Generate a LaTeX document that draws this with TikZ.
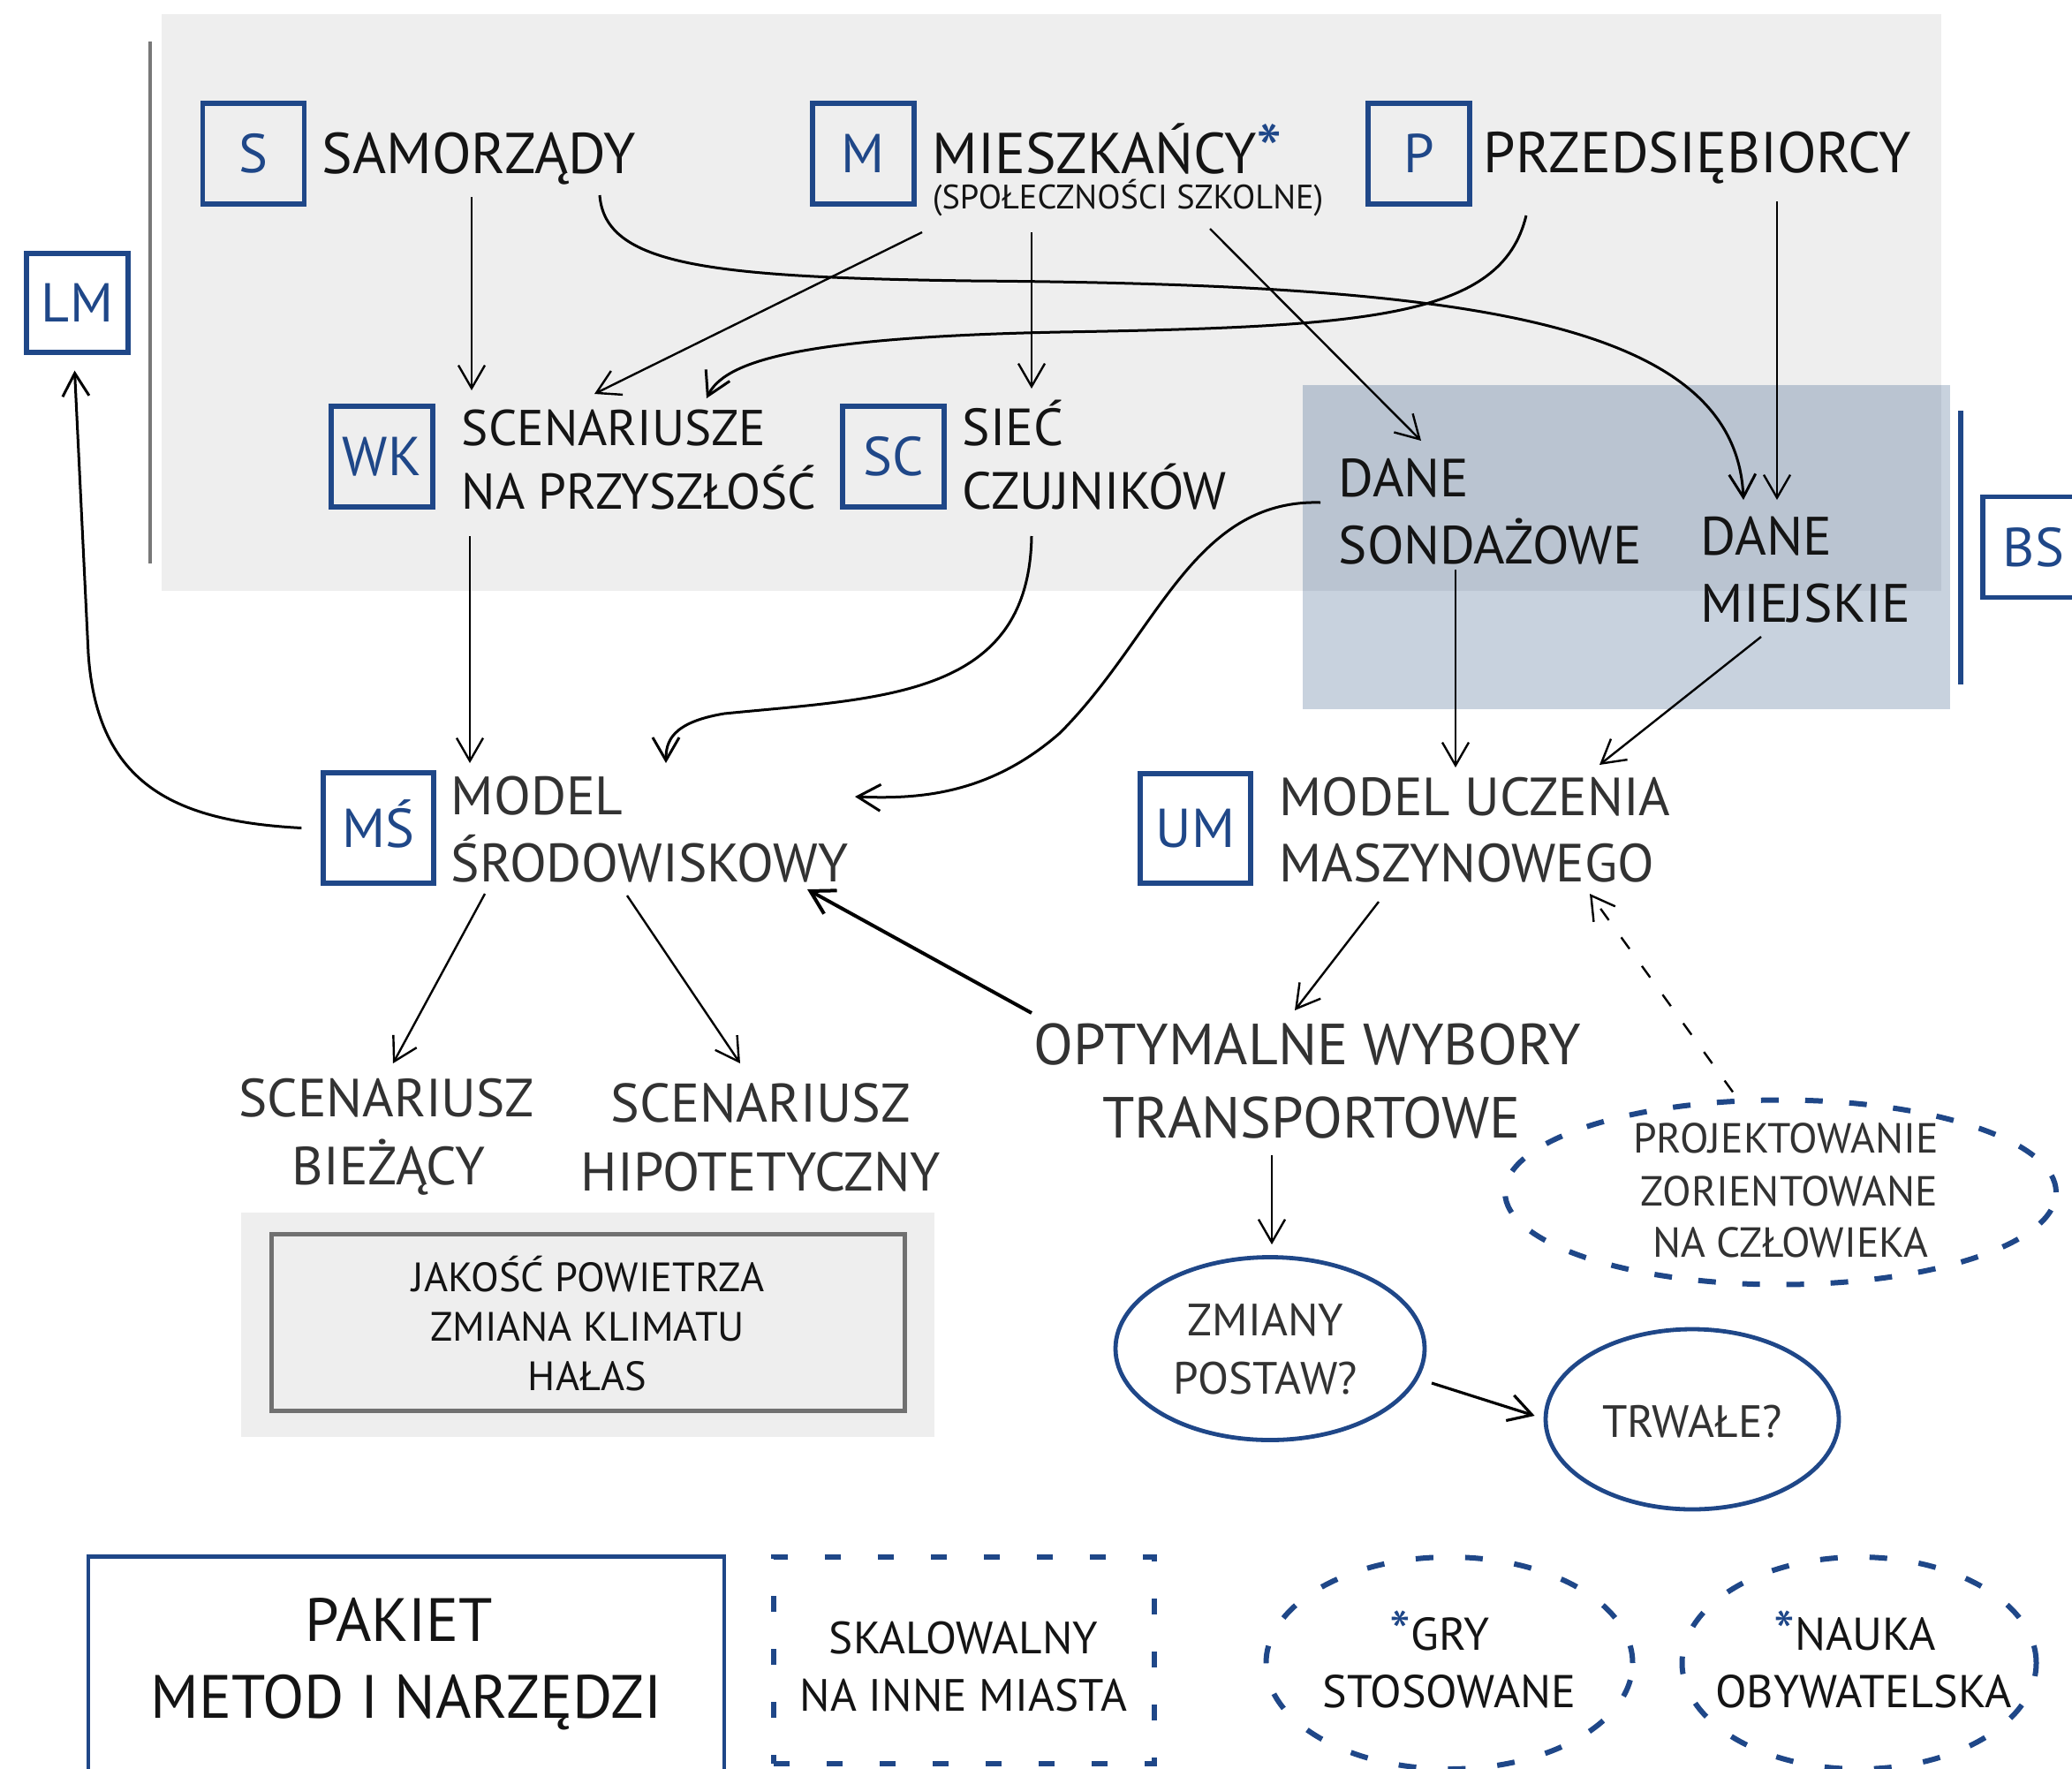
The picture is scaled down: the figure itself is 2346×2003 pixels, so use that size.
\documentclass[tikz,border=0pt]{standalone}
\usepackage{fontspec}
\setmainfont{PT Sans}
\usetikzlibrary{arrows.meta,calc,shapes.geometric}
\definecolor{myblue}{RGB}{31,71,136}
\definecolor{bggray}{RGB}{238,238,238}
\definecolor{bslight}{RGB}{200,210,222}
\definecolor{bsdark}{RGB}{186,196,209}
\definecolor{txt}{RGB}{20,20,20}
\definecolor{txtb}{RGB}{50,50,50}
\definecolor{boxgray}{RGB}{112,112,112}
\definecolor{linegray}{RGB}{120,120,120}
\newcommand\fsz[1]{\fontsize{#1}{#1}\selectfont}
\newcommand\bast[1]{\textcolor{myblue}{\fsz{#1}*}}
\begin{document}
\begin{tikzpicture}[x=0.25pt,y=-0.25pt,
  tl/.style={inner sep=0,anchor=base west,text=txt},
  tc/.style={inner sep=0,anchor=base,text=txtb},
  ibox/.style={draw=myblue,line width=1.3pt,inner sep=0,minimum width=28.75pt,minimum height=28.5pt,
    text=myblue,font=\fsz{15.5},text height=10.8pt,text depth=0pt},
  arr/.style={draw=black,line width=0.6pt,-{Straight Barb[length=6.5pt,width=7.5pt]}},
  carr/.style={arr,line width=0.75pt},
  dashbox/.style={draw=myblue,line width=1.5pt,dash pattern=on 4.5pt off 10.5pt},
  dashell/.style={ellipse,draw=myblue,line width=1.5pt,dash pattern=on 5pt off 7.5pt,inner sep=0},
  solell/.style={ellipse,draw=myblue,line width=1.2pt,inner sep=0}
]
\useasboundingbox (0,0) rectangle (2346,2003);
\clip (0,0) rectangle (2346,2003);

% backgrounds
\fill[bggray] (183,16) rectangle (2198,669);
\fill[bslight] (1475,436) rectangle (2208,803);
\fill[bsdark] (1475,436) rectangle (2198,669);
\draw[linegray,line width=1pt] (170,47) -- (170,638);
\draw[myblue,line width=1.3pt] (2220,465) -- (2220,775);

% icon boxes
\node[ibox,minimum height=28pt] (lm) at (87.5,343) {LM};
\node[ibox] (s) at (287,174) {S};
\node[ibox] (m) at (977.5,174) {M};
\node[ibox] (p) at (1606.5,174) {P};
\node[ibox] (wk) at (432.5,517) {WK};
\node[ibox] (sc) at (1011.5,517) {SC};
\node[ibox,minimum width=31.25pt,minimum height=31.25pt] (ms) at (428.5,937.5) {MŚ};
\node[ibox,minimum width=31.25pt,minimum height=31pt] (um) at (1353.5,938) {UM};
\node[ibox] (bs) at (2302.5,619.5) {BS};

% top texts
\node[tl,font=\fsz{16.3}] (samo) at (364,196) {SAMORZĄDY};
\node[tl,font=\fsz{16.3}] (mies) at (1055,196) {MIESZKAŃCY\smash{\raisebox{-1pt}{\bast{21}}}};
\node[tl,font=\fsz{9.6}] (miesb) at (1055,236) {(SPOŁECZNOŚCI SZKOLNE)};
\node[tl,font=\fsz{16.3}] (prze) at (1679,195) {PRZEDSIĘBIORCY};
\node[tl,font=\fsz{14.25}] (scena) at (522,504) {SCENARIUSZE};
\node[tl,font=\fsz{14.25}] (scenb) at (522,576) {NA PRZYSZŁOŚĆ};
\node[tl,font=\fsz{14.8}] (sieca) at (1089,504) {SIEĆ};
\node[tl,font=\fsz{14.8}] (siecb) at (1089,576) {CZUJNIKÓW};
\node[tl,font=\fsz{15.2}] (dsa) at (1515,562) {DANE};
\node[tl,font=\fsz{15.2}] (dsb) at (1515,638) {SONDAŻOWE};
\node[tl,font=\fsz{15.3}] (dma) at (1925,628) {DANE};
\node[tl,font=\fsz{15.3}] (dmb) at (1925,704) {MIEJSKIE};

% middle texts
\node[tl,text=txtb,font=\fsz{15.3}] (msa) at (510,922) {MODEL};
\node[tl,text=txtb,font=\fsz{15.3}] (msb) at (510,998) {ŚRODOWISKOWY};
\node[tl,text=txtb,font=\fsz{15.2}] (uma) at (1448,923) {MODEL UCZENIA};
\node[tl,text=txtb,font=\fsz{15.2}] (umb) at (1448,998) {MASZYNOWEGO};
\node[tc,font=\fsz{15.2}] (sba) at (437.5,1264) {SCENARIUSZ};
\node[tc,font=\fsz{15.2}] (sbb) at (440,1341) {BIEŻĄCY};
\node[tc,font=\fsz{15.4}] (sha) at (861,1270) {SCENARIUSZ};
\node[tc,font=\fsz{15.4}] (shb) at (861.5,1348) {HIPOTETYCZNY};
\node[tc,font=\fsz{16.4}] (opta) at (1480,1205) {OPTYMALNE WYBORY};
\node[tc,font=\fsz{16.4}] (optb) at (1485,1288) {TRANSPORTOWE};

% environment box
\fill[bggray] (273,1373) rectangle (1058,1627);
\node[draw=boxgray,line width=1.25pt,fill=bggray,inner sep=0,minimum width=179.25pt,minimum height=50pt] (env) at (665.5,1497) {};
\node[tc,text=txt,font=\fsz{11.6}] (enva) at (666,1462) {JAKOŚĆ POWIETRZA};
\node[tc,text=txt,font=\fsz{11.6}] (envb) at (665,1518) {ZMIANA KLIMATU};
\node[tc,text=txt,font=\fsz{11.6}] (envc) at (665,1574) {HAŁAS};

% ellipses
\node[solell,minimum width=87.5pt,minimum height=51.75pt] (zm) at (1438,1527) {};
\node[tc,font=\fsz{12.8}] (zma) at (1433,1512) {ZMIANY};
\node[tc,font=\fsz{12.8}] (zmb) at (1433,1578) {POSTAW?};
\node[solell,minimum width=83pt,minimum height=51pt] (tr) at (1916,1607) {};
\node[tc,font=\fsz{12.8}] (tra) at (1916,1627) {TRWAŁE?};
\node[dashell,minimum width=156pt,minimum height=52.25pt] (pr) at (2016,1350) {};
\node[tc,font=\fsz{11.9}] (pra) at (2022,1305) {PROJEKTOWANIE};
\node[tc,font=\fsz{11.9}] (prb) at (2026,1365) {ZORIENTOWANE};
\node[tc,font=\fsz{11.9}] (prc) at (2027,1423) {NA CZŁOWIEKA};

% bottom row
\node[draw=myblue,line width=1.1pt,inner sep=0,minimum width=180pt,minimum height=66.75pt] (pak) at (460,1896) {};
\node[tc,text=txt,font=\fsz{17.3}] (paka) at (452,1858) {PAKIET};
\node[tc,text=txt,font=\fsz{17.3}] (pakb) at (460,1945) {METOD I NARZĘDZI};
\node[dashbox,inner sep=0,minimum width=107.75pt,minimum height=58.5pt] (sk) at (1091.5,1880) {};
\node[tc,text=txt,font=\fsz{12.8}] (ska) at (1091,1872) {SKALOWALNY};
\node[tc,text=txt,font=\fsz{12.8}] (skb) at (1091,1937) {NA INNE MIASTA};
\node[dashell,dash pattern=on 5pt off 9pt,minimum width=103.75pt,minimum height=60pt] (gry) at (1641,1883) {};
\node[tc,text=txt,font=\fsz{13}] (grya) at (1630,1868) {\smash{\raisebox{-1pt}{\bast{17}}}GRY};
\node[tc,text=txt,font=\fsz{13}] (gryb) at (1641,1933) {STOSOWANE};
\node[dashell,dash pattern=on 5pt off 9pt,minimum width=100.25pt,minimum height=60pt] (nau) at (2105,1883) {};
\node[tc,text=txt,font=\fsz{13}] (naua) at (2100,1868) {\smash{\raisebox{-1pt}{\bast{17}}}NAUKA};
\node[tc,text=txt,font=\fsz{13}] (naub) at (2110,1933) {OBYWATELSKA};

% connectors
\draw[arr] ($(samo.base west)+(170,27)$) -- ($(scena.base west)+(12,-62)$);
\draw[carr] ($(samo.base west)+(315,25)$) .. controls (685,300) and (800,314) .. (1100,318)
  .. controls (1650,322) and (1965,360) .. ($(dma.base west)+(49,-62)$);
\draw[arr] ($(mies.base west)+(-11,67)$) -- ($(scena.base west)+(151,-58)$);
\draw[arr] ($(mies.base west)+(113,67)$) -- ($(sieca.base west)+(79,-64)$);
\draw[arr] ($(mies.base west)+(315,63)$) -- ($(dsa.base west)+(94,-63)$);
\draw[carr] ($(prze.base west)+(49,49)$) .. controls (1700,360) and (1550,370) .. (1200,376)
  .. controls (900,382) and (820,410) .. ($(scena.base west)+(278,-53)$);
\draw[arr] ($(prze.base west)+(333,33)$) -- ($(dma.base west)+(87,-62)$);
\draw[arr] ($(scenb.base west)+(10,31)$) -- ($(msa.base west)+(22,-58)$);
\draw[carr] ($(siecb.base west)+(79,31)$) .. controls (1165,790) and (1000,790) .. (820,808)
  .. controls (760,818) and (754,840) .. ($(msa.base west)+(244,-58)$);
\draw[carr] ($(dsa.base west)+(-20,7)$) .. controls (1350,565) and (1310,720) .. (1200,830)
  .. controls (1120,900) and (1040,905) .. ($(msa.base west)+(458,-20)$);
\draw[arr] ($(dsb.base west)+(133,7)$) -- ($(uma.base west)+(200,-54)$);
\draw[arr] ($(dmb.base west)+(69,17)$) -- ($(uma.base west)+(363,-57)$);
\draw[carr] ($(ms.west)+(-22,0)$) .. controls (200,930) and (110,890) .. (100,740)
  -- ($(lm.south)+(-3,18)$);
\draw[arr] ($(msb.base west)+(39,14)$) -- ($(sba.base)+(7.5,-60)$);
\draw[arr] ($(msb.base west)+(200,16)$) -- ($(sha.base)+(-23,-66)$);
\draw[arr,line width=1pt] ($(opta.base)+(-312,-58)$) -- ($(msb.base west)+(404,9)$);
\draw[arr] ($(umb.base west)+(113,23)$) -- ($(opta.base)+(-14,-61)$);
\draw[arr] ($(optb.base)+(-45,20)$) -- ($(zm.north)+(2,-12)$);
\draw[arr,line width=0.8pt] ($(zm.center)+(183,39)$) -- ($(tr.west)+(-10,-4)$);
\draw[arr,dash pattern=on 4pt off 6pt] ($(pr.north)+(-54,-6)$) -- ($(umb.base west)+(352,14)$);
\end{tikzpicture}
\end{document}
